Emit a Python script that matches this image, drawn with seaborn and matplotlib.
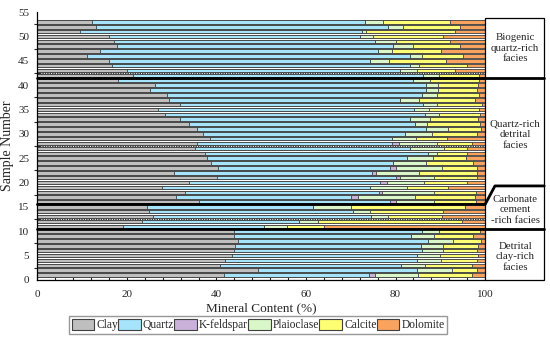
import numpy as np
import pandas as pd
import seaborn as sns
from matplotlib import pyplot as plt
from matplotlib.patches import Patch, Rectangle
from matplotlib.ticker import MultipleLocator

# sample 1 .. 53, values in %
samples = list(range(1, 54))
clay = [41.7, 49.3, 40.8, 42.0, 43.5, 44.0, 44.2, 44.9, 44.0, 44.0,
        19.2, 23.4, 25.9, 25.0, 24.4,
        36.0, 30.9, 32.9, 27.9, 33.9, 40.2, 30.6, 40.4, 38.7, 37.8,
        37.4, 35.2, 35.6, 38.5, 37.0, 35.7, 33.9, 31.9, 28.5, 27.0,
        31.9, 29.5, 28.9, 25.1, 26.3, 18.1,
        21.4, 20.0, 16.6, 16.0, 11.0, 14.0, 17.7, 17.2, 16.0, 9.6, 13.0, 12.1]
quartz = [32.4, 35.6, 40.4, 42.9, 41.4, 42.0, 41.4, 42.4, 39.4, 42.0,
          31.4, 35.0, 48.6, 45.4, 37.2,
          42.7, 39.1, 43.4, 46.4, 42.6, 39.9, 44.2, 38.3, 40.8, 44.7,
          49.9, 48.0, 43.7, 40.6, 45.2, 51.2, 50.4, 51.3, 58.1, 57.1,
          54.3, 51.6, 56.9, 61.7, 60.5, 65.9,
          64.8, 61.0, 66.7, 58.3, 72.3, 62.1, 61.8, 58.3, 56.0, 63.0, 65.4, 61.1]
kfeldspar = [1.4, 0, 0, 0, 0, 0, 0, 0, 0, 0,
             0, 0, 0, 0, 0,
             1.3, 1.7, 0.6, 0, 1.6, 0.8, 0.8, 1.3, 0, 0,
             0, 0, 1.5, 0, 0, 0, 0, 0, 0, 0,
             0, 0, 0, 0, 0, 0,
             0, 0, 0, 0, 0, 0, 0, 0, 0, 0, 0, 0]
plagioclase = [9.6, 7.6, 5.4, 5.2, 5.0, 4.7, 5.1, 5.6, 5.2, 3.7,
               5.2, 4.3, 3.9, 3.9, 8.4,
               8.6, 12.6, 11.7, 8.2, 8.3, 7.7, 9.7, 10.4, 7.3, 5.8,
               2.0, 7.6, 8.4, 5.4, 5.9, 4.9, 2.8, 4.5, 3.2, 3.4,
               3.1, 4.2, 3.5, 2.7, 2.7, 3.8,
               3.6, 3.8, 2.0, 4.2, 2.6, 3.2, 4.5, 4.6, 3.0, 0.9, 3.2, 3.9]
calcite = [11.9, 5.8, 10.4, 8.2, 8.6, 7.6, 7.8, 6.1, 8.8, 9.1,
           8.3, 32.1, 11.9, 16.4, 25.5,
           9.3, 13.4, 9.3, 9.3, 9.5, 9.5, 12.8, 7.7, 10.6, 7.4,
           6.6, 5.1, 7.8, 7.0, 10.0, 7.2, 11.7, 10.8, 9.0, 11.2,
           9.9, 12.4, 9.4, 8.7, 9.0, 10.9,
           8.9, 8.5, 10.6, 12.8, 9.2, 10.8, 10.4, 12.0, 15.5, 19.8, 12.8, 15.0]
dolomite = [3.0, 1.7, 3.0, 1.7, 1.5, 1.7, 1.5, 1.0, 2.6, 1.2,
            35.9, 5.2, 9.7, 9.3, 4.5,
            2.1, 2.3, 2.1, 8.2, 4.1, 1.9, 1.9, 1.9, 2.6, 4.3,
            4.1, 4.1, 3.0, 8.5, 1.9, 1.0, 1.2, 1.5, 1.2, 1.3,
            0.8, 2.3, 1.3, 1.8, 1.5, 1.3,
            1.3, 6.7, 4.1, 8.7, 4.9, 9.9, 5.6, 7.9, 9.5, 6.7, 5.6, 7.9]

minerals = ['Clay', 'Quartz', 'K-feldspar', 'Plaioclase', 'Calcite', 'Dolomite']
colors = ['#bfbfbf', '#a6e4fb', '#c9b1da', '#d9f7c9', '#ffff73', '#f9a35f']

facies_labels = ['Biogenic\nquartz-rich\nfacies', 'Quartz-rich\ndetrital\nfacies',
                 'Carbonate\ncement\n-rich facies', 'Detrital\nclay-rich\nfacies']

sns.set_style('ticks')
plt.rcParams['font.family'] = ['Liberation Serif', 'DejaVu Serif']

df = pd.DataFrame({'sample': samples, 'Clay': clay, 'Quartz': quartz,
                   'K-feldspar': kfeldspar, 'Plaioclase': plagioclase,
                   'Calcite': calcite, 'Dolomite': dolomite})
cum = df[minerals].cumsum(axis=1)

fig = plt.figure(figsize=(5.5, 3.38), dpi=100)
ax = fig.add_axes([0.068, 0.172, 0.814, 0.792])

# stacked look: draw cumulative totals from the back to the front
for m, c in reversed(list(zip(minerals, colors))):
    sns.barplot(x=cum[m], y=df['sample'], orient='y', native_scale=True,
                color=c, edgecolor='#404040', linewidth=0.6, width=0.72,
                errorbar=None, saturation=1, ax=ax)

ax.set_xlim(0, 100)
ax.set_ylim(0, 55)
ax.set_xlabel('Mineral Content (%)', fontsize=9.5, labelpad=3)
ax.set_ylabel('Sample Number', fontsize=10, labelpad=3)
ax.xaxis.set_major_locator(MultipleLocator(20))
ax.xaxis.set_minor_locator(MultipleLocator(4))
ax.yaxis.set_major_locator(MultipleLocator(5))
ax.set_yticks(np.arange(2.5, 55, 5), minor=True)
ax.tick_params(axis='x', which='major', direction='in', length=4, width=0.8, labelsize=8, pad=7)
ax.tick_params(axis='x', which='minor', direction='in', length=2.5, width=0.8)
ax.tick_params(axis='y', which='major', length=0, labelsize=8, pad=6)
ax.tick_params(axis='y', which='minor', direction='inout', length=5, width=0.8)
for s in ['top', 'right']:
    ax.spines[s].set_visible(False)
for s in ['left', 'bottom']:
    ax.spines[s].set_color('black')
    ax.spines[s].set_linewidth(0.9)

for yy in np.arange(2.5, 55, 5):
    ax.axhline(yy, color='#333333', lw=0.7, ls=(0, (1.5, 1)), zorder=0.5)

# facies panel on the right
ax.add_patch(Rectangle((100, 0), 13.2, 53.8, facecolor='white', edgecolor='black',
                       lw=0.9, clip_on=False, zorder=3))
ax.plot([0, 113.2], [41.5, 41.5], color='black', lw=2, clip_on=False, zorder=4)
ax.plot([0, 113.2], [10.5, 10.5], color='black', lw=2, clip_on=False, zorder=4)
ax.plot([0, 100, 102.2, 113.2], [15.5, 15.5, 19.3, 19.3], color='black', lw=2,
        clip_on=False, zorder=4)
for lab, yy in zip(facies_labels, [47.6, 29.8, 14.4, 4.7]):
    ax.text(106.7, yy, lab, ha='center', va='center', fontsize=7.8, linespacing=1.2,
            zorder=5, clip_on=False)

handles = [Patch(facecolor=c, edgecolor='#404040', lw=0.8) for c in colors]
fig.legend(handles, minerals, loc='center', bbox_to_anchor=(258 / 550, 1 - 325 / 338),
           ncol=6, frameon=True, fancybox=False, edgecolor='#7f7f7f', fontsize=8.3,
           handlelength=1.95, handleheight=1.15, handletextpad=0.2, columnspacing=0.0,
           borderpad=0.2, borderaxespad=0)

fig.savefig('out.png', dpi=100)
